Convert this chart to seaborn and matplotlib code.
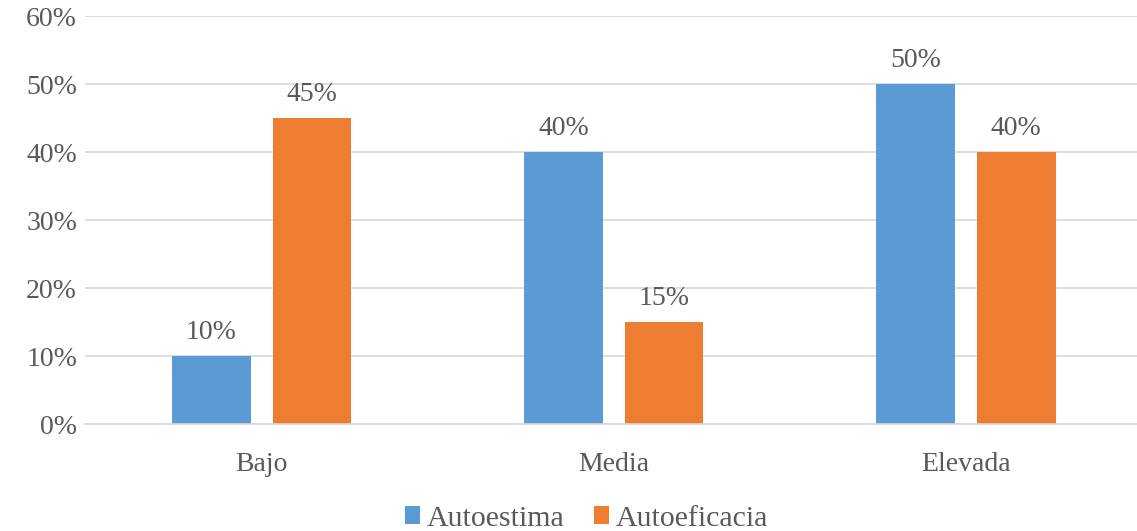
import matplotlib
matplotlib.use("Agg")
import matplotlib.pyplot as plt
import seaborn as sns
import pandas as pd
from matplotlib.ticker import PercentFormatter

categories = ["Bajo", "Media", "Elevada"]
autoestima = [10, 40, 50]
autoeficacia = [45, 15, 40]
series_names = ["Autoestima", "Autoeficacia"]
colors = ["#5B9BD5", "#ED7D31"]

df = pd.DataFrame({
    "nivel": categories * 2,
    "serie": [series_names[0]] * 3 + [series_names[1]] * 3,
    "valor": autoestima + autoeficacia,
})

sns.set_theme(style="white")
plt.rcParams["font.family"] = ["Liberation Serif", "DejaVu Serif"]
text_color = "#595959"
fs = 20

fig = plt.figure(figsize=(11.37, 5.31), dpi=100)
# plot area: x from 85 px, 1057 px wide; y from 0% at 424 px to 60% at 16 px
ax = fig.add_axes([85.4 / 1137, (531 - 424) / 531, 1056.75 / 1137, 408 / 531])

sns.barplot(data=df, x="nivel", y="valor", hue="serie", palette=colors,
            width=0.571, gap=0.219, ax=ax, saturation=1, legend=True,
            linewidth=0, edgecolor="none")

for cont in ax.containers:
    ax.bar_label(cont, labels=[f"{v:.0f}%" for v in cont.datavalues],
                 padding=8, fontsize=fs, color=text_color)

ax.set_ylim(0, 60)
ax.set_yticks(range(0, 61, 10))
ax.yaxis.set_major_formatter(PercentFormatter(decimals=0))
ax.set_xlim(-0.5, 2.5)
ax.set_xlabel("")
ax.set_ylabel("")
ax.grid(axis="y", color="#D9D9D9", linewidth=1.2)
ax.set_axisbelow(True)
for s in ["top", "right", "left"]:
    ax.spines[s].set_visible(False)
ax.spines["bottom"].set_color("#D9D9D9")
ax.spines["bottom"].set_linewidth(1.2)
ax.tick_params(axis="both", length=0, labelsize=fs, labelcolor=text_color)
ax.tick_params(axis="y", pad=6)
ax.tick_params(axis="x", pad=20)

handles, labels = ax.get_legend_handles_labels()
ax.legend(handles, labels, loc="center", bbox_to_anchor=(0.474, -0.232),
          ncol=2, frameon=False, fontsize=21.5, handlelength=0.52, handleheight=0.52,
          handletextpad=0.2, columnspacing=1.0, labelcolor=text_color,
          borderpad=0)

fig.savefig("out.png", dpi=100)
